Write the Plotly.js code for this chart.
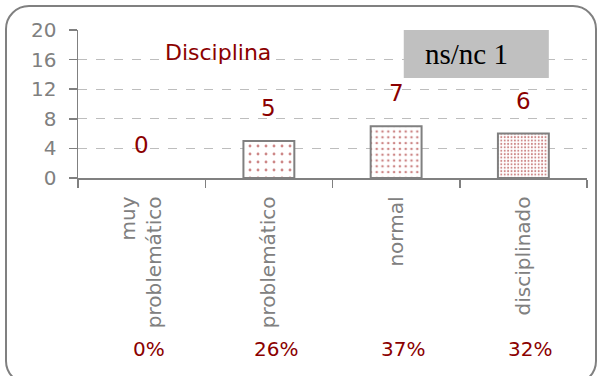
<!DOCTYPE html>
<html>
<head>
<meta charset="utf-8">
<script src="https://cdn.plot.ly/plotly-3.0.1.min.js"></script>
<style>
html,body{margin:0;padding:0;background:#fff;overflow:hidden;}
#frame{position:absolute;left:5px;top:5px;width:592px;height:380px;border:2px solid #808080;border-radius:24px;box-sizing:border-box;}
#chart{position:absolute;left:0;top:0;width:599px;height:376px;}
</style>
</head>
<body>
<div id="frame"></div>
<div id="chart"></div>
<script>
const categories = ["muy<br>problemático", "problemático", "normal", "disciplinado"];
const counts = [0, 5, 7, 6];
const percents = ["0%", "26%", "37%", "32%"];
const dotSizes = [8, 8, 5.8, 3.4];
const dotSolidity = [0.1, 0.1, 0.16, 0.28];
const chartTitle = "Disciplina";
const noAnswerLabel = "ns/nc 1";

const red = "#8b0000";
const gray = "#808080";
const font = "DejaVu Sans";

const trace = {
  type: "bar",
  x: categories,
  y: counts,
  width: 0.4,
  marker: {
    color: "#ffffff",
    line: {color: gray, width: counts.map(v => v > 0 ? 2 : 0)},
    pattern: {shape: ".", fgcolor: "#9b1010", bgcolor: "#ffffff", size: dotSizes, solidity: dotSolidity, fillmode: "overlay"}
  },
  hoverinfo: "none"
};

const annotations = [];
categories.forEach((c, i) => {
  annotations.push({x: c, y: counts[i], xref: "x", yref: "y", text: String(counts[i]), showarrow: false,
    yshift: 33, yanchor: "middle", font: {family: font, size: 23, color: red}});
  annotations.push({x: c, y: -1.155, xref: "x", yref: "paper", text: percents[i], showarrow: false,
    xshift: 7, yanchor: "middle", font: {family: font, size: 20, color: red}});
});
annotations.push({x: 0.275, y: 0.851, xref: "paper", yref: "paper", text: chartTitle, showarrow: false,
  xanchor: "center", yanchor: "middle", font: {family: font, size: 22, color: red}});
annotations.push({x: 0.764, y: 0.838, xref: "paper", yref: "paper", text: noAnswerLabel, showarrow: false,
  xanchor: "center", yanchor: "middle", font: {family: "Liberation Serif", size: 29, color: "#000"}});

const layout = {
  width: 599, height: 376,
  margin: {l: 78, r: 12, t: 30, b: 198},
  paper_bgcolor: "rgba(0,0,0,0)",
  plot_bgcolor: "rgba(0,0,0,0)",
  showlegend: false,
  xaxis: {
    type: "category",
    showline: true, linecolor: gray, linewidth: 1.5,
    ticks: "outside", tickson: "boundaries", ticklen: 8, tickcolor: gray, tickwidth: 1.5,
    tickangle: -90, ticklabelstandoff: 9,
    tickfont: {family: font, size: 20, color: gray},
    showgrid: false,
    range: [-0.5, 3.5]
  },
  yaxis: {
    range: [0, 20], dtick: 4, tick0: 0,
    showline: true, linecolor: gray, linewidth: 1.5,
    ticks: "outside", ticklen: 8, tickcolor: gray, tickwidth: 1.5,
    ticklabelstandoff: 8,
    tickfont: {family: font, size: 20, color: gray},
    showgrid: true, gridcolor: "#bdbdbd", griddash: "dash", gridwidth: 1,
    zeroline: false
  },
  shapes: [{type: "rect", xref: "paper", yref: "paper", x0: 0.640, x1: 0.925, y0: 0.676, y1: 1.0,
    fillcolor: "#c0c0c0", line: {width: 0}, layer: "above"}],
  annotations: annotations
};

Plotly.newPlot("chart", [trace], layout, {staticPlot: true, displayModeBar: false});
</script>
</body>
</html>
